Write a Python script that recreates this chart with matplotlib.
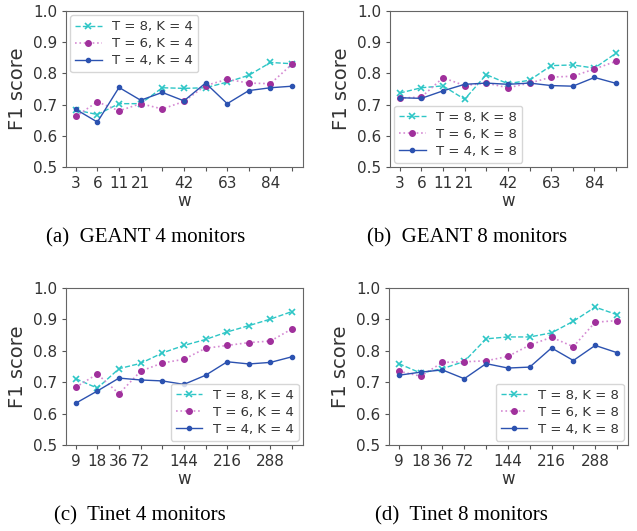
import numpy as np
import matplotlib.pyplot as plt

# x positions are equally spaced, only some are labelled
geant_ticks = ['3', '6', '11', '21', '', '42', '', '63', '', '84', '']
tinet_ticks = ['9', '18', '36', '72', '', '144', '', '216', '', '288', '']

# (a) GEANT 4 monitors
a_t8 = [0.683, 0.668, 0.703, 0.703, 0.754, 0.752, 0.754, 0.772, 0.794, 0.835, 0.831]
a_t6 = [0.662, 0.709, 0.680, 0.703, 0.686, 0.710, 0.761, 0.781, 0.769, 0.767, 0.830]
a_t4 = [0.685, 0.644, 0.755, 0.714, 0.739, 0.712, 0.769, 0.703, 0.745, 0.754, 0.759]

# (b) GEANT 8 monitors
b_t8 = [0.737, 0.754, 0.760, 0.717, 0.796, 0.767, 0.778, 0.825, 0.827, 0.817, 0.865]
b_t6 = [0.721, 0.724, 0.786, 0.761, 0.769, 0.754, 0.769, 0.788, 0.791, 0.814, 0.839]
b_t4 = [0.722, 0.720, 0.744, 0.765, 0.769, 0.765, 0.769, 0.761, 0.759, 0.787, 0.768]

# (c) Tinet 4 monitors
c_t8 = [0.711, 0.681, 0.743, 0.760, 0.793, 0.817, 0.836, 0.860, 0.880, 0.901, 0.925]
c_t6 = [0.684, 0.726, 0.663, 0.735, 0.761, 0.773, 0.808, 0.817, 0.826, 0.831, 0.870]
c_t4 = [0.633, 0.672, 0.713, 0.707, 0.704, 0.693, 0.722, 0.765, 0.758, 0.763, 0.781]

# (d) Tinet 8 monitors
d_t8 = [0.759, 0.729, 0.743, 0.766, 0.838, 0.844, 0.844, 0.857, 0.894, 0.939, 0.915]
d_t6 = [0.735, 0.719, 0.763, 0.765, 0.768, 0.782, 0.818, 0.843, 0.813, 0.891, 0.896]
d_t4 = [0.722, 0.732, 0.739, 0.711, 0.759, 0.745, 0.748, 0.809, 0.769, 0.817, 0.794]

panels = [
    ([0.1036, 0.6855, 0.372, 0.2938], geant_ticks, (a_t8, a_t6, a_t4), 4, 'upper left'),
    ([0.6122, 0.6855, 0.372, 0.2938], geant_ticks, (b_t8, b_t6, b_t4), 8, 'lower left'),
    ([0.1036, 0.1620, 0.372, 0.2957], tinet_ticks, (c_t8, c_t6, c_t4), 4, 'lower right'),
    ([0.6107, 0.1620, 0.375, 0.2957], tinet_ticks, (d_t8, d_t6, d_t4), 8, 'lower right'),
]
captions = [
    (0.228, 0.533, '(a)  GEANT 4 monitors'),
    (0.734, 0.533, '(b)  GEANT 8 monitors'),
    (0.219, 0.011, '(c)  Tinet 4 monitors'),
    (0.724, 0.011, '(d)  Tinet 8 monitors'),
]

txt = '#333333'
fig = plt.figure(figsize=(6.37, 5.31), dpi=100)

for rect, labels, (s8, s6, s4), k, loc in panels:
    ax = fig.add_axes(rect)
    x = np.arange(len(s8))
    ax.plot(x, s8, '--', color='#2ec6c6', marker='x', ms=4, mew=1.2, lw=1,
            label='T = 8, K = %d' % k)
    ax.plot(x, s6, ':', color='#d58ad3', marker='o', ms=4,
            mfc='#a0309c', mec='#a0309c', lw=1.2, label='T = 6, K = %d' % k)
    ax.plot(x, s4, '-', color='#2c52b0', marker='o', ms=3, lw=1,
            label='T = 4, K = %d' % k)
    ax.set_ylim(0.5, 1.0)
    ax.set_xlim(-0.45, 10.5)
    ax.set_yticks([0.5, 0.6, 0.7, 0.8, 0.9, 1.0])
    ax.set_xticks(x)
    ax.set_xticklabels(labels)
    ax.tick_params(axis='both', labelsize=11, colors='#555555',
                   labelcolor=txt, length=3)
    ax.set_ylabel('F1 score', fontsize=14, color=txt, labelpad=4)
    ax.set_xlabel('w', fontsize=12, color=txt, labelpad=1)
    for sp in ax.spines.values():
        sp.set_color('#666666')
    ax.legend(loc=loc, fontsize=9.5, handlelength=2.0, numpoints=1,
              labelspacing=0.3, labelcolor=txt, borderaxespad=0.3)

for cx, cy, s in captions:
    fig.text(cx, cy, s, ha='center', va='bottom', fontsize=15,
             family='Liberation Serif')

fig.savefig('out.png', dpi=100)
